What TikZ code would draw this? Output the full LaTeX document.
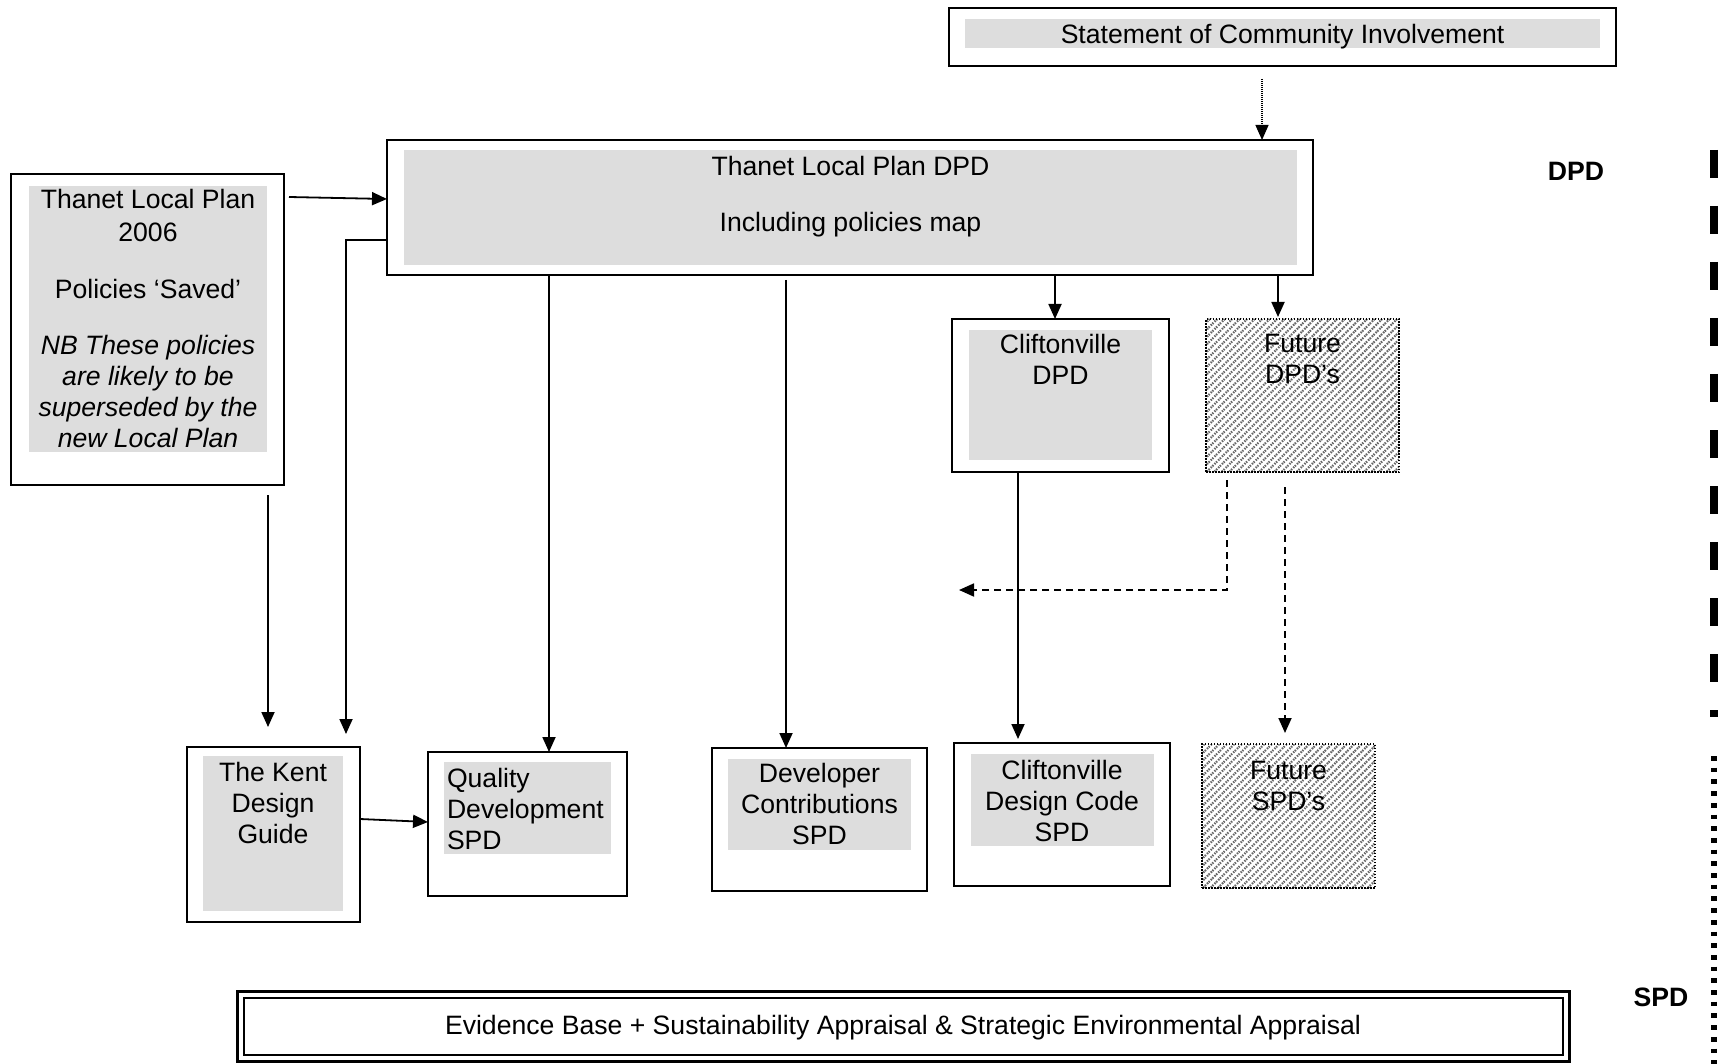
\documentclass[tikz,border=0pt]{standalone}
\usepackage{fontspec}
\setmainfont{Liberation Sans}
\usetikzlibrary{arrows.meta,patterns.meta}
\definecolor{boxgray}{RGB}{221,221,221}
\begin{document}
\begin{tikzpicture}[x=1pt,y=-1pt,
  box/.style={draw,line width=1.8pt,inner sep=0pt,outer sep=0pt},
  hatchbox/.style={inner sep=0pt,outer sep=0pt,
    pattern={Lines[angle=45,distance=5.3pt,line width=2.2pt]},pattern color=black!60,
    draw,line width=1.5pt,dash pattern=on 1.5pt off 1.5pt},
  txt/.style={inner sep=0pt,outer sep=0pt,font=\fontsize{26.6}{31}\selectfont,align=center,anchor=north},
  lbl/.style={txt,font=\fontsize{26.6}{31}\selectfont\bfseries},
  arr/.style={line width=1.8pt,-{Triangle[length=15pt,width=13pt]}},
  dasharr/.style={arr,dash pattern=on 7pt off 5pt},
  dotarr/.style={line width=1.3pt,dash pattern=on 1pt off 1pt,-{Triangle[length=15pt,width=13pt]}},
]
\useasboundingbox (0,0) rectangle (1724,1064);

% ---- boxes ----
\node[box,minimum width=667pt,minimum height=58pt] (sci) at (1282.5,37) {};
\fill[boxgray] (965,19) rectangle (1600,48);
\node[txt] (scit) at (1282.5,24.5) {Statement of Community Involvement};

\node[box,minimum width=926pt,minimum height=135pt] (dpd) at (850,207.5) {};
\fill[boxgray] (404,150) rectangle (1297,265);
\node[txt] (dpdt) at (850.5,156.5) {Thanet Local Plan DPD\\[25pt]Including policies map};

\node[box,minimum width=273pt,minimum height=311pt] (old) at (147.5,329.5) {};
\fill[boxgray] (29,186) rectangle (267,452);
\node[txt] (oldt) at (148,189.5) {Thanet Local Plan\\[2pt]2006\\[26pt]Policies ‘Saved’\\[25pt]\textit{NB These policies}\\\textit{are likely to be}\\\textit{superseded by the}\\\textit{new Local Plan}};

\node[box,minimum width=173pt,minimum height=175pt] (kent) at (273.5,834.5) {};
\fill[boxgray] (203,756) rectangle (343,911);
\node[txt] (kentt) at (273,762.5) {The Kent\\Design\\Guide};

\node[box,minimum width=199pt,minimum height=144pt] (qual) at (527.5,824) {};
\fill[boxgray] (444,762) rectangle (611,854);
\node[txt,align=left,anchor=north west] (qualt) at (447,768.5) {Quality\\Development\\SPD};

\node[box,minimum width=215pt,minimum height=143pt] (dev) at (819.5,819.5) {};
\fill[boxgray] (728,759) rectangle (911,850);
\node[txt] (devt) at (819.5,763.5) {Developer\\Contributions\\SPD};

\node[box,minimum width=217pt,minimum height=153pt] (clif) at (1060.5,395.5) {};
\fill[boxgray] (969,330) rectangle (1152,460);
\node[txt] (clift) at (1060.5,334.5) {Cliftonville\\DPD};

\node[hatchbox,minimum width=193pt,minimum height=153pt] (fdpd) at (1302.5,395.5) {};
\node[txt] (fdpdt) at (1302.5,334.5) {Future\\DPD's};

\node[box,minimum width=216pt,minimum height=143pt] (cdc) at (1062,814.5) {};
\fill[boxgray] (971,754) rectangle (1154,846);
\node[txt] (cdct) at (1062,760.5) {Cliftonville\\Design Code\\SPD};

\node[hatchbox,minimum width=173pt,minimum height=144pt] (fspd) at (1288.5,816) {};
\node[txt] (fspdt) at (1288.5,761.5) {Future\\SPD's};

\node[draw,line width=3pt,inner sep=0pt,outer sep=0pt,minimum width=1332pt,minimum height=70pt] (evid) at (903,1026) {};
\draw[line width=2pt] (243.5,997.5) rectangle (1562.5,1054.5);
\node[txt] (evidt) at (903,1015.5) {Evidence Base + Sustainability Appraisal \& Strategic Environmental Appraisal};

% ---- side labels and scale ----
\node[lbl] (dpdl) at (1576,162.5) {DPD};
\node[lbl] (spdl) at (1661,987.5) {SPD};
\draw[line width=7.5pt,dash pattern=on 28pt off 28pt] (1714,150) -- (1714,717);
\draw[line width=5.5pt,dash pattern=on 4.7pt off 7pt] (1714,756) -- (1714,1064);

% ---- connectors ----
\coordinate (dashend) at (959,590);
\draw[dotarr] ([xshift=-20.5pt,yshift=-13pt]sci.south) -- ([xshift=412pt]dpd.north);
\draw[arr] ([xshift=5pt,yshift=-23pt]old.north east) -- ([yshift=-59pt]dpd.north west);
\draw[arr] ([yshift=-100pt]dpd.north west) -| ([xshift=-14pt,yshift=13pt]kent.north east);
\draw[arr] ([xshift=120.5pt,yshift=-10pt]old.south) -- ([xshift=-5.5pt,yshift=20pt]kent.north);
\draw[arr] ([yshift=-72pt]kent.north east) -- ([yshift=-70pt]qual.north west);
\draw[arr] ([xshift=-301pt]dpd.south) -- ([xshift=21.5pt]qual.north);
\draw[arr] ([xshift=-64pt,yshift=-5pt]dpd.south) -- ([xshift=-33.5pt]dev.north);
\draw[arr] ([xshift=205pt]dpd.south) -- ([xshift=-5.5pt]clif.north);
\draw[arr] ([xshift=428pt]dpd.south) -- ([xshift=-24.5pt,yshift=2pt]fdpd.north);
\draw[arr] ([xshift=-42.5pt]clif.south) -- ([xshift=-44pt,yshift=4pt]cdc.north);
\draw[dasharr] ([xshift=-17.5pt,yshift=-15pt]fdpd.south) -- ([xshift=-3.5pt,yshift=11pt]fspd.north);
\draw[dasharr] ([xshift=21pt,yshift=-8pt]fdpd.south west) |- (dashend);
\end{tikzpicture}
\end{document}
